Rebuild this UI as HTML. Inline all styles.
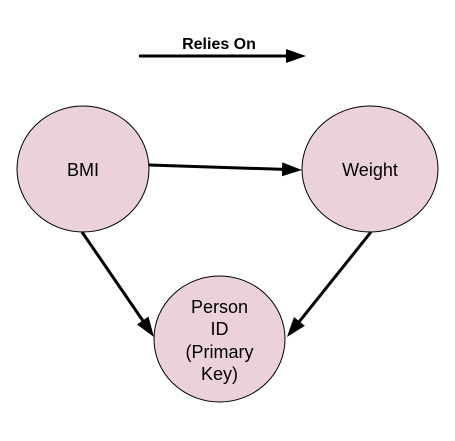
<!DOCTYPE html>
<html><head><style>body{margin:0;background:#fff}svg{display:block}</style></head><body>
<svg width="455" height="441" xmlns="http://www.w3.org/2000/svg" font-family="Liberation Sans, sans-serif">
<defs>
<marker id="b" viewBox="0 0 20 14" markerWidth="20" markerHeight="14" refX="14" refY="7" orient="auto" markerUnits="userSpaceOnUse"><path d="M0,0L20,7L0,14z" fill="#000"/></marker></defs>
<g fill="#ead1dc" stroke="#000" stroke-width="1">
<ellipse cx="83" cy="169" rx="66" ry="63"/>
<ellipse cx="370" cy="169" rx="68" ry="63"/>
<ellipse cx="219.5" cy="339" rx="65.5" ry="63"/>
</g>
<g stroke="#000" stroke-width="3" fill="none">
<line x1="139" y1="56" x2="300" y2="56" marker-end="url(#b)"/>
<line x1="149" y1="165" x2="296" y2="169.8" marker-end="url(#b)"/>
<line x1="82" y1="232" x2="150.6" y2="332" marker-end="url(#b)"/>
<line x1="371" y1="232" x2="290.7" y2="332.3" marker-end="url(#b)"/>
</g>
<text x="219" y="49" font-size="16" font-weight="bold" text-anchor="middle">Relies On</text>
<g font-size="18" text-anchor="middle">
<text x="83" y="176">BMI</text>
<text x="370" y="176">Weight</text>
<text x="219.5" y="313">Person</text>
<text x="219.5" y="335">ID</text>
<text x="219.5" y="358">(Primary</text>
<text x="219.5" y="380">Key)</text>
</g>
</svg>
</body></html>
